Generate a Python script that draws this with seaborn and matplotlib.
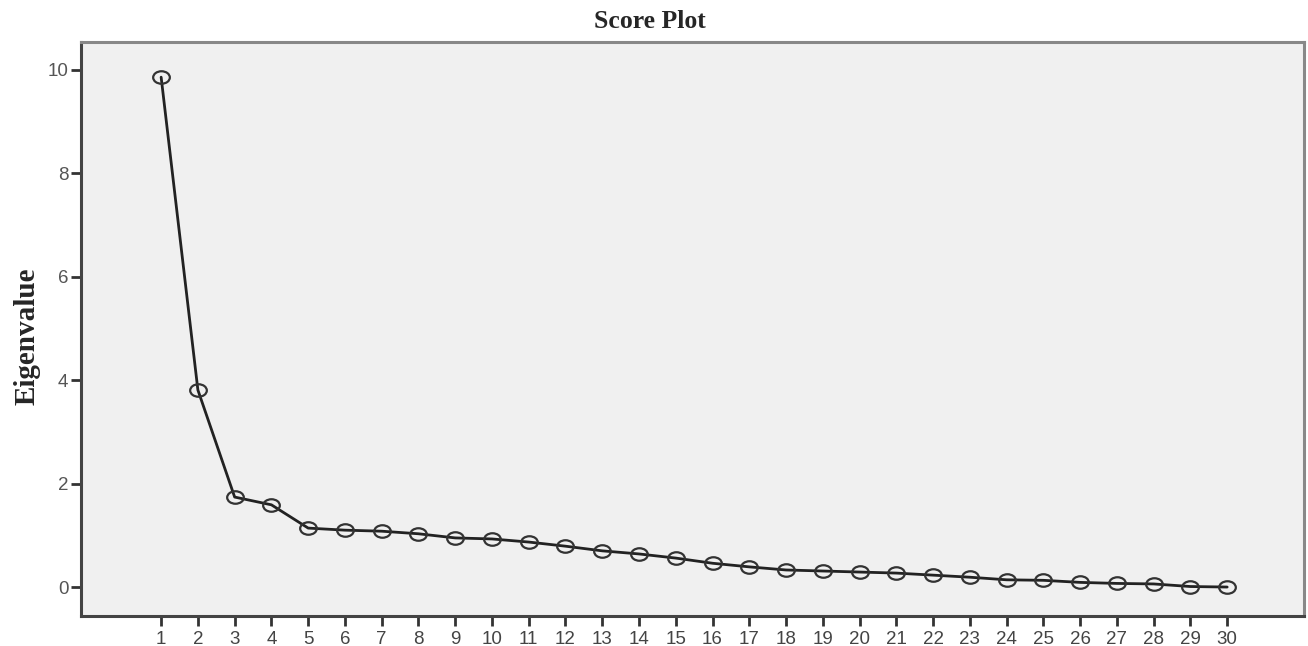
import numpy as np
import pandas as pd
import matplotlib
matplotlib.use("Agg")
import matplotlib.pyplot as plt
from matplotlib.path import Path
import seaborn as sns

# componente si valori proprii
component = list(range(1, 31))
eigenvalue = [9.86, 3.81, 1.74, 1.59, 1.14, 1.10, 1.08, 1.03, 0.95, 0.93,
              0.87, 0.79, 0.70, 0.64, 0.56, 0.46, 0.39, 0.33, 0.31, 0.29,
              0.27, 0.23, 0.19, 0.14, 0.13, 0.09, 0.07, 0.06, 0.01, 0.0]
y_ticks = [0, 2, 4, 6, 8, 10]

df = pd.DataFrame({"Component": component, "Eigenvalue": eigenvalue})

sns.set_style("white")
plt.rcParams['font.family'] = ['Liberation Sans', 'DejaVu Sans']

# marker eliptic (cercurile din original sunt putin turtite)
circ = Path.unit_circle()
elipsa = Path(circ.vertices * np.array([1.0, 0.75]), circ.codes)

fig = plt.figure(figsize=(13.08, 6.46), dpi=100)
ax = fig.add_axes([81/1308, 1-616/646, (1304-81)/1308, (616-42)/646])
ax.set_facecolor('#f0f0f0')

sns.lineplot(data=df, x="Component", y="Eigenvalue", ax=ax, color='#222222',
             linewidth=2, marker=elipsa, markersize=12, markerfacecolor='none',
             markeredgecolor='#333333', markeredgewidth=1.6)

ax.set_xlim(-1.18, 32.09)
ax.set_ylim(-0.56, 10.54)
ax.set_xticks(component)
ax.set_yticks(y_ticks)
ax.tick_params(axis='both', direction='out', length=7, width=2, color='#333333',
               labelsize=13.5, labelcolor='#444444', left=True, bottom=True)
ax.tick_params(axis='x', pad=4)
ax.tick_params(axis='y', pad=2, labelcolor='#555555')

for side in ['left', 'bottom']:
    ax.spines[side].set_color('#444444')
    ax.spines[side].set_linewidth(2.2)
for side in ['top', 'right']:
    ax.spines[side].set_color('#888888')
    ax.spines[side].set_linewidth(2.2)

ax.set_xlabel("")
ax.set_ylabel("")
fig.text(650/1308, 1-22/646, "Score Plot", ha='center', va='center',
         fontsize=18.5, fontweight='bold', family='Liberation Serif')
fig.text(27/1308, 1-336/646, "Eigenvalue", ha='center', va='center', rotation=90,
         fontsize=21, fontweight='bold', family='Liberation Serif')

fig.savefig("out.png", dpi=100)
